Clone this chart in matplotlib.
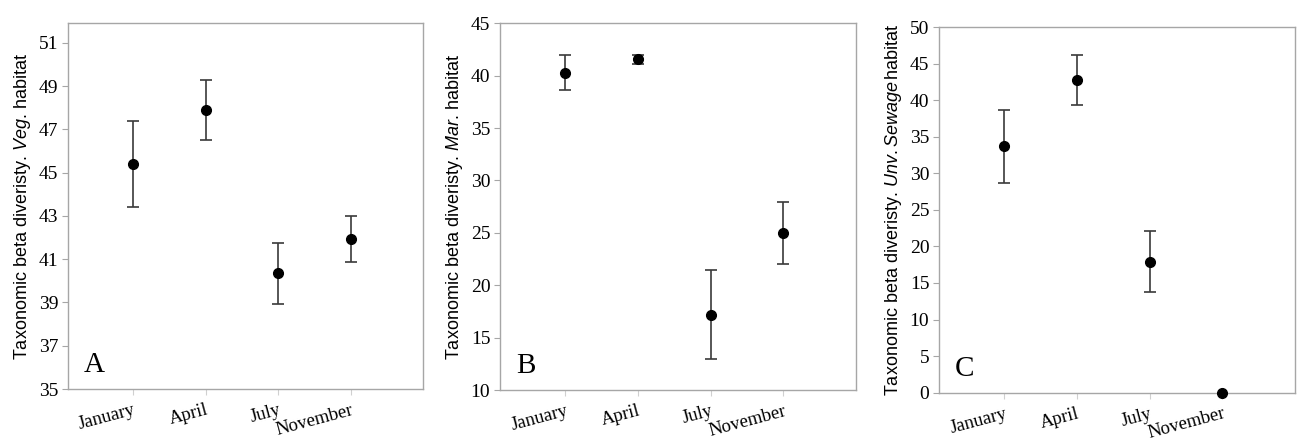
import matplotlib.pyplot as plt

months = ["January", "April", "July", "November"]
positions = [1, 2, 3, 4]

# panel A - vegetated habitat
veg_mean = [45.4, 47.9, 40.35, 41.92]
veg_err = [2.0, 1.4, 1.4, 1.06]
# panel B - marine habitat
mar_mean = [40.3, 41.55, 17.2, 25.0]
mar_err = [1.65, 0.45, 4.25, 2.95]
# panel C - university sewage habitat
unv_mean = [33.7, 42.8, 17.9, 0.0]
unv_err = [5.0, 3.4, 4.15, 0.0]

SERIF = "Liberation Serif"
SANS = "Liberation Sans"
SPINE = "#a6a6a6"

panels = [
    dict(letter="A", mean=veg_mean, err=veg_err, ylim=(35, 51.92), yticks=range(35, 52, 2),
         label=r"Taxonomic beta diveristy. $\it{Veg.}\,$habitat",
         rect=[0.0524, 0.1159, 0.2735, 0.8318]),
    dict(letter="B", mean=mar_mean, err=mar_err, ylim=(10, 45), yticks=range(10, 46, 5),
         label=r"Taxonomic beta diveristy. $\it{Mar.}\,$habitat",
         rect=[0.3852, 0.1136, 0.2743, 0.8334]),
    dict(letter="C", mean=unv_mean, err=unv_err, ylim=(0, 50), yticks=range(0, 51, 5),
         label=r"Taxonomic beta diveristy. $\it{Unv.Sewage}\,$habitat",
         rect=[0.7234, 0.1075, 0.2743, 0.8311]),
]

plt.rcParams["mathtext.fontset"] = "custom"
plt.rcParams["mathtext.it"] = "Liberation Sans:italic"
plt.rcParams["mathtext.rm"] = "Liberation Sans"

fig = plt.figure(figsize=(12.98, 4.4), dpi=100)

for p in panels:
    ax = fig.add_axes(p["rect"])
    for x, m, e in zip(positions, p["mean"], p["err"]):
        if e > 0:
            ax.errorbar(x, m, yerr=e, fmt="none", ecolor="#3a3a3a", elinewidth=1.2,
                        capsize=4, capthick=1.2)
    ax.plot(positions, p["mean"], "o", color="black", markersize=7, linestyle="none",
            clip_on=False, zorder=3)

    ax.set_xlim(0.1, 5.0)
    ax.set_ylim(*p["ylim"])
    ax.set_yticks(list(p["yticks"]))
    ax.set_xticks(positions)
    ax.set_xticklabels(months, rotation=15, ha="right", rotation_mode="anchor",
                       fontfamily=SERIF, fontsize=13.5)
    for lbl in ax.get_yticklabels():
        lbl.set_fontfamily(SERIF)
        lbl.set_fontsize(14)

    for s in ax.spines.values():
        s.set_color(SPINE)
        s.set_linewidth(1.0)
    ax.tick_params(axis="y", length=4, color=SPINE, pad=3)
    ax.tick_params(axis="x", length=4, color="#d0d0d0", pad=5)

    ax.set_ylabel(p["label"], fontfamily=SANS, fontsize=13, labelpad=4)
    ax.text(0.045, 0.03, p["letter"], transform=ax.transAxes, fontfamily=SERIF,
            fontsize=21, ha="left", va="bottom")

fig.savefig("out.png", dpi=100)
